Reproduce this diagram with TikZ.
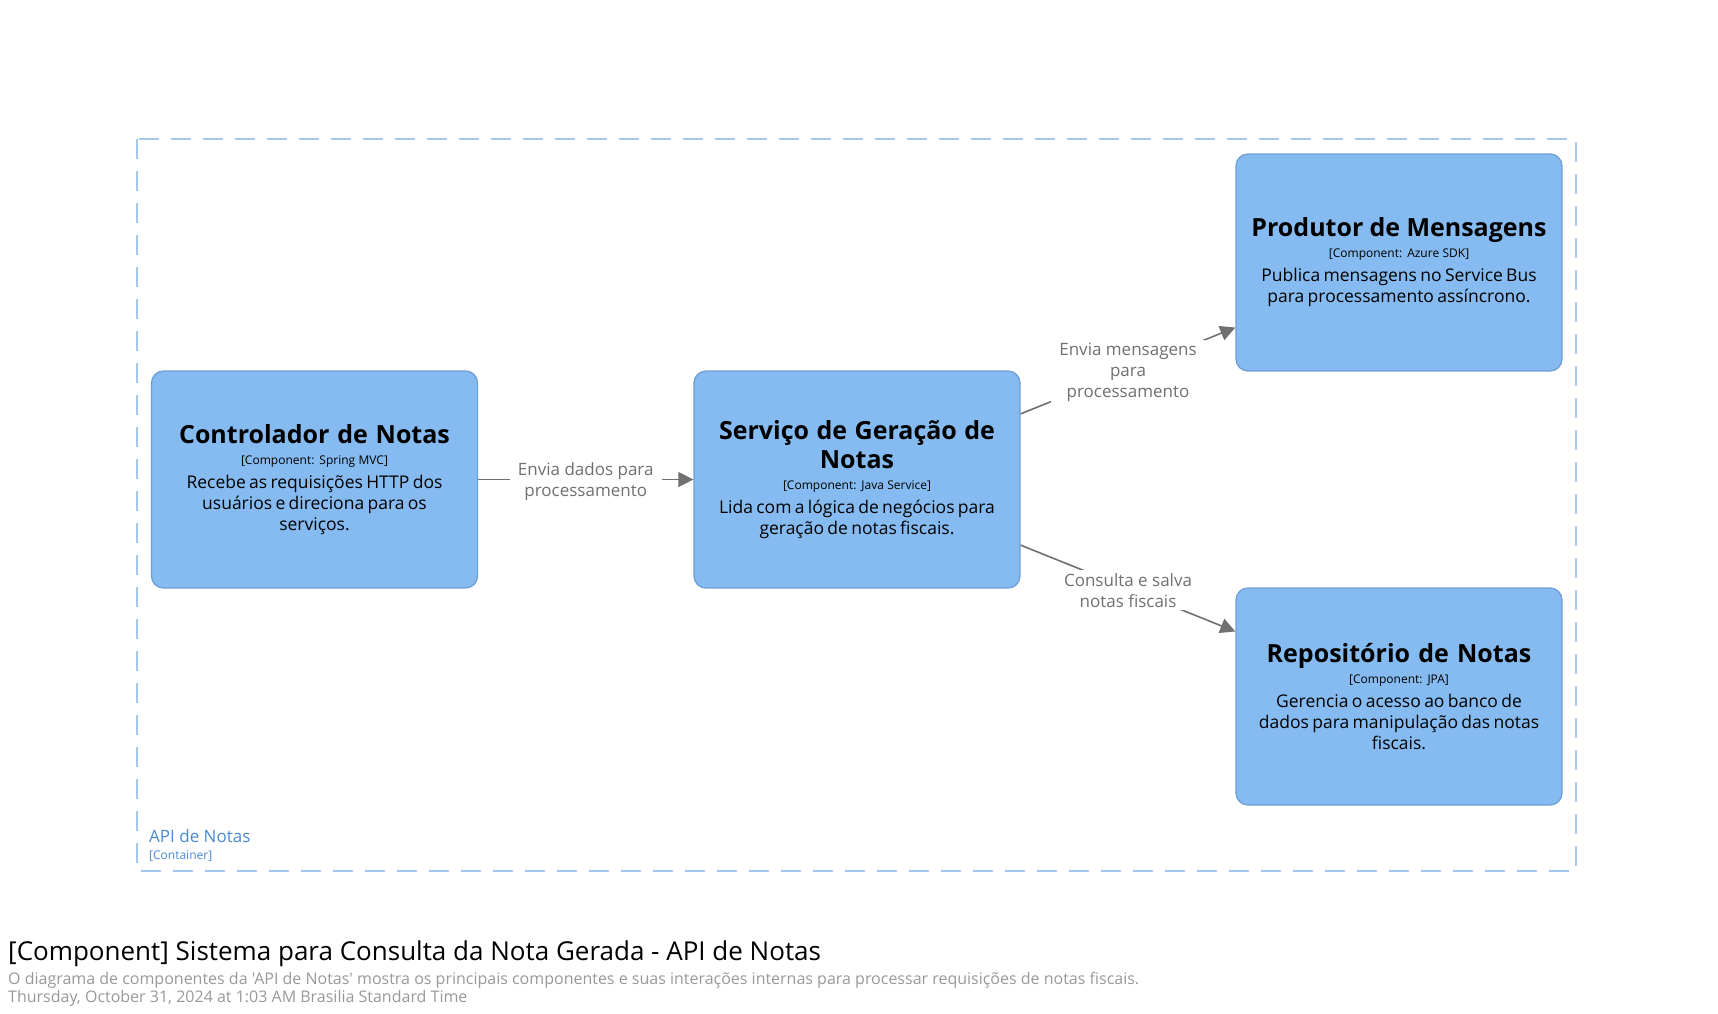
\documentclass[tikz,border=0pt]{standalone}
\usepackage{fontspec}
\setmainfont{Open Sans}[Ligatures=TeXOff]
\usetikzlibrary{arrows.meta}
\definecolor{compfill}{HTML}{85BBF0}
\definecolor{compdraw}{HTML}{6E9FD6}
\definecolor{linegray}{HTML}{707070}
\definecolor{bndcol}{HTML}{A4C7EC}
\definecolor{bndtext}{HTML}{4A8AD4}
\definecolor{footgray}{HTML}{999999}
\newcommand\comptext[3]{{\fontsize{25}{29.5}\selectfont\bfseries\spaceskip=0.2em plus 0.1em\relax #1\par}{\fontsize{12}{21}\selectfont #2\par}\vspace{3pt}{\fontsize{17.5}{21}\selectfont #3\par}}
\begin{document}
\begin{tikzpicture}[x=1pt,y=-1pt,
  comp/.style={draw=compdraw, fill=compfill, line width=1.3pt, rounded corners=12pt,
    minimum width=326pt, minimum height=217pt, text width=316pt, align=center, inner sep=0pt},
  conn/.style={draw=linegray, line width=1.6pt, -{Triangle[length=15pt,width=15pt]}},
  elabel/.style={fill=white, text=linegray, font=\fontsize{17}{21}\selectfont, align=center,
    inner xsep=8pt, inner ysep=3pt, yshift=-2pt},
  bnd/.style={draw=bndcol, line width=1.8pt, dash pattern=on 20pt off 12pt}]
\useasboundingbox (0,0) rectangle (1718,1013);
\fill[white] (0,0) rectangle (1718,1013);
% container boundary
\draw[bnd] (137,139) rectangle (1576,871);
\node[anchor=west, text=bndtext, font=\fontsize{17}{20}\selectfont, inner sep=0pt] (bndname) at (149,836) {API de Notas};
\node[anchor=west, text=bndtext, font=\fontsize{12}{14}\selectfont, inner sep=0pt] (bndtype) at (149,856) {[Container]};
% components
\node[comp] (ctrl) at (314.5,479.5) {\comptext{Controlador de Notas}{[Component: Spring MVC]}{Recebe as requisições HTTP dos\\usuários e direciona para os\\serviços.}};
\node[comp] (serv) at (857,479.5) {\comptext{Serviço de Geração de\\Notas}{[Component: Java Service]}{Lida com a lógica de negócios para\\geração de notas fiscais.}};
\node[comp] (prod) at (1399,262.5) {\comptext{Produtor de Mensagens}{[Component: Azure SDK]}{Publica mensagens no Service Bus\\para processamento assíncrono.}};
\node[comp] (repo) at (1399,696.5) {\comptext{Repositório de Notas}{[Component: JPA]}{Gerencia o acesso ao banco de\\dados para manipulação das notas\\fiscais.}};
% connectors
\draw[conn] (ctrl) -- node[elabel] (l1) {Envia dados para\\processamento} (serv);
\draw[conn] (serv) -- node[elabel] (l2) {Envia mensagens\\para\\processamento} (prod);
\draw[conn] (serv) -- node[elabel] (l3) {Consulta e salva\\notas fiscais} (repo);
% footer
\node[anchor=west, inner sep=0pt, font=\fontsize{26}{30}\selectfont] (ftitle) at (8,954) {[Component] Sistema para Consulta da Nota Gerada - API de Notas};
\node[anchor=west, inner sep=0pt, text=footgray, font=\fontsize{16}{19}\selectfont] (fdesc) at (8,980) {O diagrama de componentes da 'API de Notas' mostra os principais componentes e suas interações internas para processar requisições de notas fiscais.};
\node[anchor=west, inner sep=0pt, text=footgray, font=\fontsize{16}{19}\selectfont] (fdate) at (8,998) {Thursday, October 31, 2024 at 1:03 AM Brasilia Standard Time};
\end{tikzpicture}
\end{document}
